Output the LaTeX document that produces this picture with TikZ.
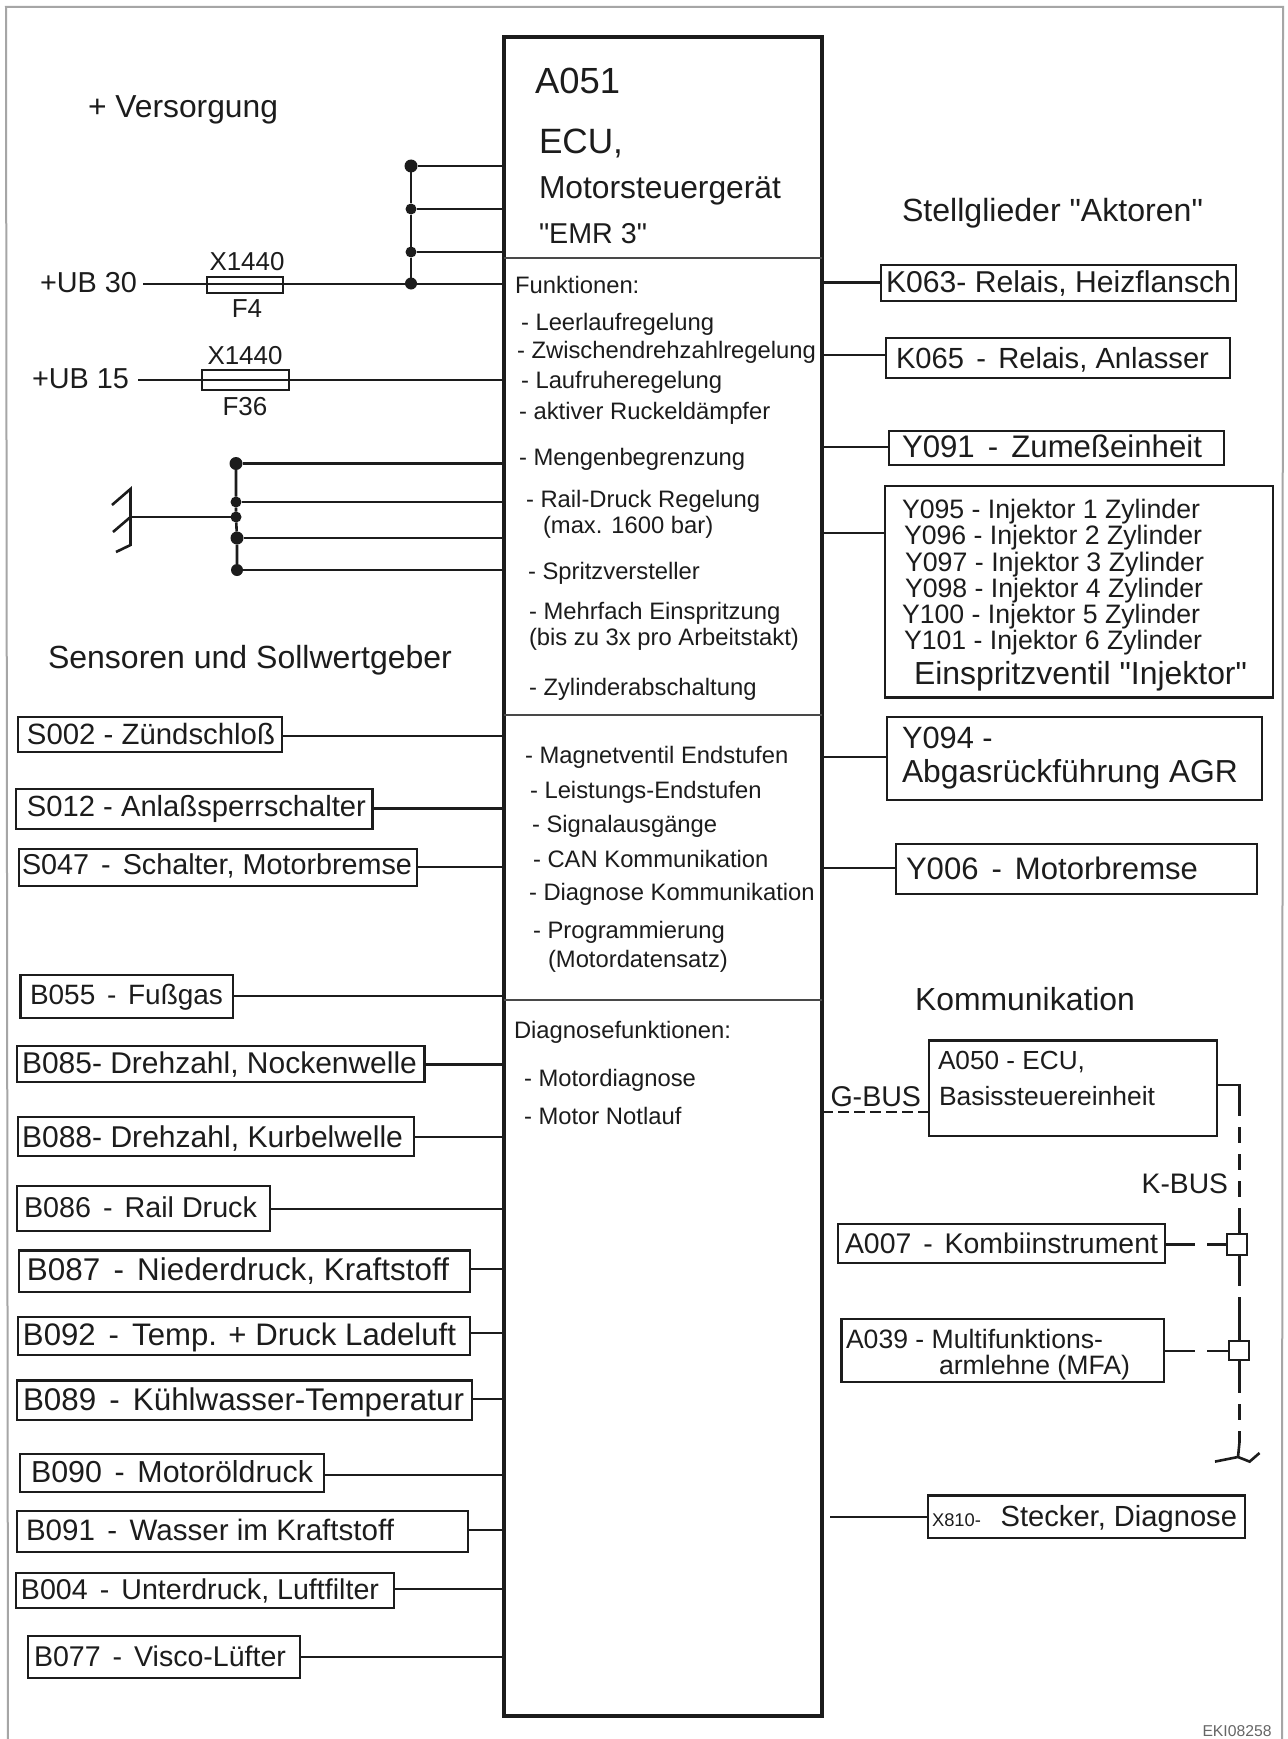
\documentclass[tikz,border=0pt]{standalone}
\usepackage{fontspec}
\setmainfont[Ligatures=TeXOff]{Liberation Sans}
\definecolor{ink}{HTML}{1C1C1C}
\newsavebox\fitb
\newlength\fitl
\newcommand{\fitw}[2]{\sbox\fitb{\fontsize{10pt}{12pt}\selectfont #2}\setlength\fitl{\wd\fitb}\pgfmathsetmacro\fitsz{10*(#1)/\fitl}\fontsize{\fitsz pt}{\fitsz pt}\selectfont #2}
\def\qgetbox#1,#2,#3,#4;{\def\qxa{#1}\def\qya{#2}\def\qxb{#3}\def\qyb{#4}}
\def\qgettxt#1,#2,#3;{\def\qtx{#1}\def\qte{#2}\def\qtb{#3}}
% boxed single-line label: [line width]{name}{x1,y1,x2,y2}{textx,textend,baseline}{text}
\newcommand{\bx}[5][2.2]{\qgetbox#3;\qgettxt#4;%
  \pgfmathsetlengthmacro\qh{(\qtb-\qya)*1pt}\pgfmathsetlengthmacro\qd{(\qyb-\qtb)*1pt}%
  \pgfmathsetlengthmacro\qw{(\qxb-\qxa)*1pt}\pgfmathsetlengthmacro\qp{(\qtx-\qxa)*1pt}%
  \pgfmathsetmacro\qtw{\qte-\qtx}%
  \node[boxst,line width=#1pt,anchor=north west,text height=\qh,text depth=\qd] (#2) at (\qxa,\qya)
    {\makebox[\qw][l]{\hspace*{\qp}\fitw{\qtw}{#5}}};}
% empty rectangle
\newcommand{\ebox}[3][2.2]{\qgetbox#3;%
  \pgfmathsetlengthmacro\qh{(\qyb-\qya)*1pt}\pgfmathsetlengthmacro\qw{(\qxb-\qxa)*1pt}%
  \node[boxst,line width=#1pt,anchor=north west,minimum width=\qw,minimum height=\qh] (#2) at (\qxa,\qya) {};}
% text fitted to a width: {name}{x}{baseline}{xend}{text}
\newcommand{\tfit}[5]{\pgfmathsetmacro\qtw{#4-#2}\node[txt] (#1) at (#2,#3) {\fitw{\qtw}{#5}};}
% text with fixed size: {name}{x}{baseline}{size}{text}
\newcommand{\tfs}[5]{\node[txt] (#1) at (#2,#3) {\fontsize{#4pt}{#4pt}\selectfont #5};}
\newcommand{\lconn}[2]{\draw[conn] (#1.east |- 0,#2) -- (ecu.west |- 0,#2);}
\newcommand{\rconn}[2]{\draw[conn] (ecu.east |- 0,#2) -- (#1.west |- 0,#2);}
\newcommand{\dsh}{\hspace{.42em}-\hspace{.42em}}
\tikzset{
  boxst/.style={draw=ink,rectangle,inner sep=0pt,outer sep=0pt,text=ink},
  txt/.style={anchor=base west,inner sep=0pt,outer sep=0pt,text=ink},
  conn/.style={draw=ink,line width=2.6pt},
  thin rule/.style={draw=ink!80,line width=1.6pt},
  dotst/.style={circle,fill=ink,inner sep=0pt,outer sep=0pt,minimum size=#1},
  dotst/.default=11pt,
  busdash/.style={draw=ink,line width=2.6pt,dash pattern=on 16pt off 11pt},
  gdash/.style={draw=ink,line width=2.2pt,dash pattern=on 11pt off 5pt},
  framest/.style={draw=black!35,line width=2pt}
}
\begin{document}
\begin{tikzpicture}[x=1pt,y=-1pt]
\useasboundingbox (0,0) rectangle (1287,1739);
\fill[white] (0,0) rectangle (1287,1739);
\draw[framest] (8,1739) -- (6,7) -- (1283,7) -- (1282,1739);

% main unit
\ebox[3.6]{ecu}{504,37,822,1716}
\foreach \yy in {258,715,1000} \draw[thin rule] (ecu.west |- 0,\yy) -- (ecu.east |- 0,\yy);
\tfit{ta}{535}{94}{620}{A051}
\tfit{tb}{539}{154}{623}{ECU,}
\tfit{tc}{539}{199}{781}{Motorsteuergerät}
\tfit{td}{539}{243}{647}{"EMR 3"}
\def\fz{23.8}
\tfs{f1}{515}{293}{\fz}{Funktionen:}
\tfs{f2}{521}{330}{\fz}{- Leerlaufregelung}
\tfs{f3}{517}{358}{\fz}{- Zwischendrehzahlregelung}
\tfs{f4}{521}{388}{\fz}{- Laufruheregelung}
\tfs{f5}{519}{419}{\fz}{- aktiver Ruckeldämpfer}
\tfs{f6}{519}{465}{\fz}{- Mengenbegrenzung}
\tfs{f7}{526}{507}{\fz}{- Rail-Druck Regelung}
\tfs{f8}{543}{533}{\fz}{(max. 1600 bar)}
\tfs{f9}{528}{579}{\fz}{- Spritzversteller}
\tfs{f10}{529}{619}{\fz}{- Mehrfach Einspritzung}
\tfs{f11}{529}{645}{\fz}{(bis zu 3x pro Arbeitstakt)}
\tfs{f12}{529}{695}{\fz}{- Zylinderabschaltung}
\tfs{f13}{525}{763}{\fz}{- Magnetventil Endstufen}
\tfs{f14}{530}{798}{\fz}{- Leistungs-Endstufen}
\tfs{f15}{532}{832}{\fz}{- Signalausgänge}
\tfs{f16}{533}{867}{\fz}{- CAN Kommunikation}
\tfs{f17}{529}{900}{\fz}{- Diagnose Kommunikation}
\tfs{f18}{533}{938}{\fz}{- Programmierung}
\tfs{f19}{548}{967}{\fz}{(Motordatensatz)}
\tfs{f20}{514}{1038}{\fz}{Diagnosefunktionen:}
\tfs{f21}{524}{1086}{\fz}{- Motordiagnose}
\tfs{f22}{524}{1124}{\fz}{- Motor Notlauf}

% supply
\tfit{vers}{88}{118}{278}{+ Versorgung}
\tfit{ub30}{40}{292.6}{137}{+UB 30}
\tfit{ub15}{32}{388}{129}{+UB 15}
\ebox[2]{f4box}{207,277,283,293}
\ebox[2]{f36box}{202,370,288.5,390}
\node[txt,anchor=base] (x1a) at (247,270) {\fitw{75}{X1440}};
\node[txt,anchor=base] (f4t) at (247,317.5) {\fontsize{26pt}{26pt}\selectfont F4};
\node[txt,anchor=base] (x1b) at (245,364) {\fitw{75}{X1440}};
\node[txt,anchor=base] (f36t) at (245,415) {\fontsize{26pt}{26pt}\selectfont F36};
\coordinate (ub30s) at (143,284);
\coordinate (ub15s) at (138,380);
\node[dotst=13pt] (j1) at (411,166) {};
\node[dotst=11pt] (j2) at (411,209) {};
\node[dotst=11pt] (j3) at (411,252) {};
\node[dotst=12pt] (j4) at (411,283.5) {};
\draw[conn] (ub30s) -- (ub30s -| ecu.west);
\draw[conn] (ub15s) -- (ub15s -| ecu.west);
\draw[conn] (j1) -- (j2) -- (j3) -- (j4);
\foreach \jn in {j1,j2,j3} \draw[conn] (\jn) -- (\jn -| ecu.west);

% ground
\node[dotst=13pt] (g1) at (236,463.5) {};
\node[dotst=11pt] (g2) at (236,502) {};
\node[dotst=11pt] (g3) at (236,517) {};
\node[dotst=13pt] (g4) at (237,538) {};
\node[dotst=12pt] (g5) at (237,570) {};
\draw[conn] (g1) -- (g2) -- (g3) -- (g4) -- (g5);
\foreach \jn in {g1,g2,g4,g5} \draw[conn] (\jn) -- (\jn -| ecu.west);
\coordinate (gs) at (131,517);
\draw[conn] (gs) -- (g3);
\draw[conn] (112,505) -- (130.5,489) -- (130.5,545) -- (116,552);
\draw[conn] (113,532) -- (130.5,517);

% sensors
\tfit{sens}{48}{668}{452}{Sensoren und Sollwertgeber}
\bx{s002}{18,717,282,752}{27,275,744}{S002 - Zündschloß}
\bx{s012}{15.6,789,372.5,829}{27,366,816}{S012 - Anlaßsperrschalter}
\bx[2.8]{s047}{19,849,417,886}{22,412,874}{S047\dsh Schalter, Motorbremse}
\bx{b055}{20.5,975,233,1018}{30,223,1004}{B055\dsh Fußgas}
\bx{b085}{16.6,1046,424.5,1082}{22,417,1073}{B085- Drehzahl, Nockenwelle}
\bx{b088}{17.6,1117,413.6,1156}{22,403,1147}{B088- Drehzahl, Kurbelwelle}
\bx{b086}{17,1186,270,1231}{24,257,1217}{B086\dsh Rail Druck}
\bx{b087}{19,1250.5,470,1292}{27,449,1280}{B087\dsh Niederdruck, Kraftstoff}
\bx{b092}{18,1317,470,1354.6}{23,456,1345}{B092\dsh Temp. + Druck Ladeluft}
\bx{b089}{17,1380.5,472,1420}{23,464,1410}{B089\dsh Kühlwasser-Temperatur}
\bx{b090}{20,1453.6,324,1492}{31,313,1482}{B090\dsh Motoröldruck}
\bx{b091}{17,1511,468,1552}{26,394,1540}{B091\dsh Wasser im Kraftstoff}
\bx{b004}{16,1573,394,1607.6}{21,379,1599}{B004\dsh Unterdruck, Luftfilter}
\bx{b077}{28,1635.6,300,1678}{34,286,1666}{B077\dsh Visco-Lüfter}
\lconn{s002}{736}
\lconn{s012}{808.6}
\lconn{s047}{867}
\lconn{b055}{996}
\lconn{b085}{1064.6}
\lconn{b088}{1137}
\lconn{b086}{1209}
\lconn{b087}{1269}
\lconn{b092}{1333}
\lconn{b089}{1399}
\lconn{b090}{1475}
\lconn{b091}{1530}
\lconn{b004}{1589}
\lconn{b077}{1657}

% actuators
\tfit{stell}{902}{221.6}{1203}{Stellglieder "Aktoren"}
\bx{k063}{880.7,264.7,1236,301}{886,1231,292}{K063- Relais, Heizflansch}
\bx{k065}{886,338,1230,378}{896,1209,368}{K065\dsh Relais, Anlasser}
\bx{y091}{889,431,1224,465}{902,1202,457.5}{Y091\dsh Zumeßeinheit}
\ebox{inj}{885,486,1273,697.5}
\tfit{i1}{902}{518}{1200}{Y095 - Injektor 1 Zylinder}
\tfit{i2}{904}{544}{1202}{Y096 - Injektor 2 Zylinder}
\tfit{i3}{905}{571}{1204}{Y097 - Injektor 3 Zylinder}
\tfit{i4}{905}{597}{1203}{Y098 - Injektor 4 Zylinder}
\tfit{i5}{902}{623}{1200}{Y100 - Injektor 5 Zylinder}
\tfit{i6}{904}{649}{1202}{Y101 - Injektor 6 Zylinder}
\tfit{i7}{914}{684}{1247}{Einspritzventil "Injektor"}
\ebox[2.8]{y094}{887,717,1262,800}
\tfs{y94a}{902}{748}{30.8}{Y094 -}
\tfit{y94b}{902}{782}{1238}{Abgasrückführung AGR}
\bx[2.6]{y006}{896,844,1257,894}{906,1198,879}{Y006\dsh Motorbremse}
\rconn{k063}{282.6}
\rconn{k065}{355}
\rconn{y091}{447}
\rconn{inj}{533}
\rconn{y094}{757}
\rconn{y006}{868}

% communication
\tfit{komm}{915}{1010}{1135}{Kommunikation}
\ebox{a050}{928.7,1040.5,1217,1136}
\tfit{a50a}{938}{1069.5}{1085}{A050 - ECU,}
\tfit{a50b}{939}{1105}{1155}{Basissteuereinheit}
\tfit{gbus}{830.5}{1106}{921}{G-BUS}
\tfit{kbus}{1141.7}{1193}{1228}{K-BUS}
\bx[2]{a007}{837.5,1224,1165,1263}{845,1158,1253}{A007\dsh Kombiinstrument}
\ebox{a039}{841.5,1319,1164,1382}
\tfit{a39a}{846}{1348}{1103}{A039 - Multifunktions-}
\tfit{a39b}{939}{1374}{1130}{armlehne (MFA)}
\ebox{x810}{927.7,1495.5,1244.6,1537.6}
\tfit{x8a}{932}{1526}{981}{X810-}
\tfit{x8b}{1000.7}{1526}{1237}{Stecker, Diagnose}
\ebox{sqa}{1227,1234,1247,1255}
\ebox{sqb}{1229,1340.6,1249,1360}
\draw[gdash] (ecu.east |- 0,1112) -- (a050.west |- 0,1112);
\coordinate (k0) at (1239.5,1085);
\coordinate (k1) at (1239.5,1100);
\coordinate (k2) at (1239.5,1212);
\coordinate (k3) at (1239.5,1270);
\coordinate (k4) at (1239.5,1309);
\coordinate (k5) at (1239.5,1377);
\coordinate (k6) at (1239.5,1442);
\coordinate (k7) at (1238,1457);
\draw[conn] (a050.east |- k0) -- (k0) -- (k1);
\draw[busdash] (k1) -- (k2);
\draw[conn] (k2) -- (sqa.north -| k2);
\draw[conn] (sqa.south -| k3) -- (k3);
\draw[busdash] (k3) -- (k4);
\draw[conn] (k4) -- (sqb.north -| k4);
\draw[conn] (sqb.south -| k5) -- (k5);
\draw[busdash] (k5) -- (k6);
\draw[conn] (k6) -- (k7);
\draw[conn] (1215,1461.6) -- (k7) -- (1249.6,1461.6) -- (1259.5,1453);
\coordinate (am) at (1195,1244.5);
\coordinate (an) at (1207,1244.5);
\coordinate (bm) at (1195,1351);
\coordinate (bn) at (1207,1351);
\draw[conn] (a007.east |- am) -- (am);
\draw[conn] (an) -- (sqa.west |- an);
\draw[conn] (a039.east |- bm) -- (bm);
\draw[conn] (bn) -- (sqb.west |- bn);
\coordinate (xs) at (830,1517);
\draw[conn] (xs) -- (xs -| x810.west);

\node[txt,text=black!60] (eki) at (1202.5,1736) {\fitw{69}{EKI08258}};
\end{tikzpicture}
\end{document}
